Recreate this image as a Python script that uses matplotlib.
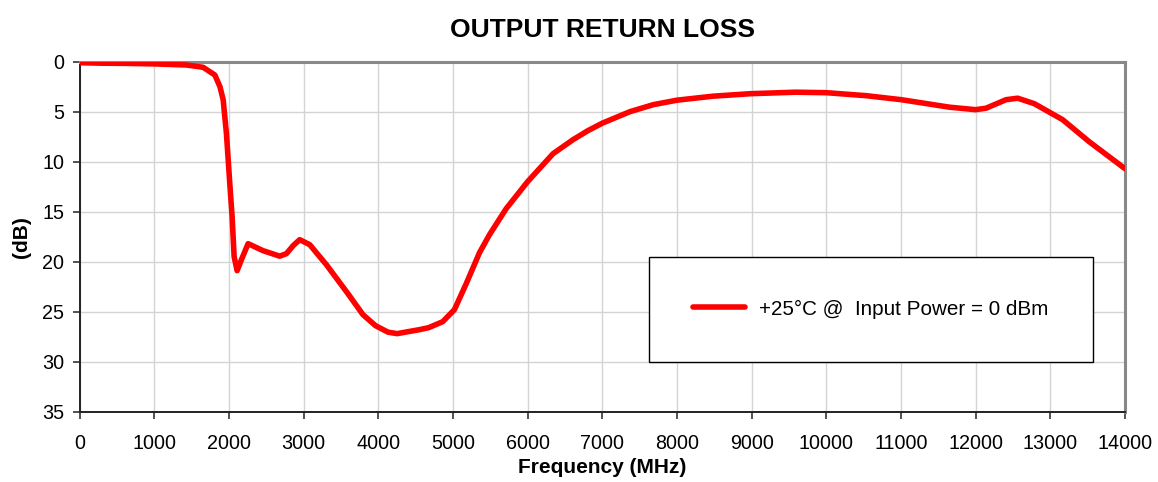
import matplotlib
matplotlib.use("Agg")
import matplotlib.pyplot as plt
from matplotlib.patches import Rectangle

plt.rcParams['font.family'] = ['Liberation Sans', 'DejaVu Sans']

freq_mhz = [0, 300, 630, 1000, 1430, 1655, 1812, 1880, 1923, 1945, 1967, 2012, 2043, 2070,
            2110, 2168, 2257, 2457, 2680, 2770, 2860, 2948, 3082, 3305, 3594, 3795, 3963,
            4130, 4252, 4552, 4676, 4864, 5020, 5178, 5356, 5490, 5713, 6000, 6341, 6608,
            6807, 7000, 7370, 7682, 8000, 8482, 8987, 9589, 10000, 10535, 11003, 11650,
            12000, 12140, 12407, 12563, 12786, 13165, 13520, 14000]
return_loss_db = [0.1, 0.15, 0.17, 0.22, 0.33, 0.56, 1.33, 2.5, 3.8, 5.5, 7.2, 12.2, 15.5, 19.5,
                  20.9, 19.8, 18.2, 18.9, 19.45, 19.2, 18.4, 17.8, 18.3, 20.3, 23.2, 25.3, 26.4,
                  27.05, 27.2, 26.8, 26.6, 26.0, 24.8, 22.2, 19.1, 17.3, 14.7, 12.0, 9.2, 7.8,
                  6.9, 6.15, 5.0, 4.3, 3.85, 3.45, 3.2, 3.05, 3.1, 3.4, 3.8, 4.55,
                  4.8, 4.65, 3.8, 3.65, 4.2, 5.8, 8.0, 10.7]
series_label = "+25°C @  Input Power = 0 dBm"
x_ticks = list(range(0, 14001, 1000))
y_ticks = list(range(0, 36, 5))

fig = plt.figure(figsize=(11.58, 4.82), dpi=100)
ax = fig.add_axes([0.0687, 0.146, 0.9028, 0.726])

line, = ax.plot(freq_mhz, return_loss_db, color='#ff0000', lw=4.0,
                solid_capstyle='round', solid_joinstyle='round', zorder=3)

ax.set_xlim(0, 14000)
ax.set_ylim(35, 0)
ax.set_xticks(x_ticks)
ax.set_yticks(y_ticks)
ax.grid(True, color='#d4d4d4', lw=1.0, zorder=0)
ax.tick_params(axis='both', direction='out', length=5, width=1.2, color='#333333', labelsize=14.2)
ax.tick_params(axis='x', pad=11)
ax.tick_params(axis='y', pad=6)

for s in ['left', 'bottom']:
    ax.spines[s].set_color('#222222')
    ax.spines[s].set_linewidth(1.4)
for s in ['top', 'right']:
    ax.spines[s].set_color('#888888')
    ax.spines[s].set_linewidth(2.2)

ax.set_title("OUTPUT RETURN LOSS", fontsize=19, fontweight='bold', pad=18)
ax.set_xlabel("Frequency (MHz)", fontsize=15, fontweight='bold', labelpad=4)
ax.set_ylabel("(dB)", fontsize=15, fontweight='bold', labelpad=8)

box = (0.545, 0.143, 0.424, 0.300)
ax.add_patch(Rectangle((box[0], box[1]), box[2], box[3], transform=ax.transAxes,
                       facecolor='white', edgecolor='black', lw=1.0, zorder=4))
leg = ax.legend([line], [series_label], loc='center', bbox_to_anchor=box,
                frameon=False, fontsize=14.9, handlelength=2.5, handletextpad=0.7)
leg.set_zorder(5)

fig.savefig("out.png", dpi=100)
